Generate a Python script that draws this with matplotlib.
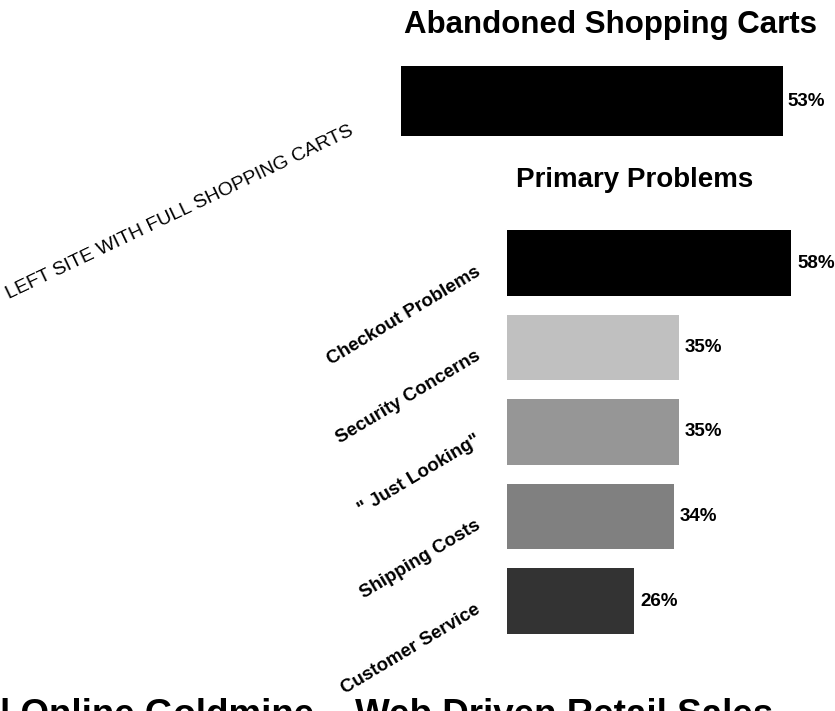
import matplotlib.pyplot as plt
import numpy as np

plt.rcParams["font.family"] = ["Liberation Sans", "DejaVu Sans"]

W, H = 835, 711

# abandoned carts share
abandoned = [53]

# reasons for leaving
problems = ["Checkout Problems", "Security Concerns", '" Just Looking"',
            "Shipping Costs", "Customer Service"]
problem_pct = [58, 35, 35, 34, 26]
problem_colors = ["#000000", "#c0c0c0", "#969696", "#808080", "#333333"]

fig = plt.figure(figsize=(W / 100, H / 100), dpi=100)


def px(x0, y0, x1, y1):
    # pixel box -> figure fraction rect
    return [x0 / W, 1 - y1 / H, (x1 - x0) / W, (y1 - y0) / H]


# top bar
ax_top = fig.add_axes(px(401, 66, 783, 136))
ax_top.barh([0], abandoned, height=1.0, color="black")
ax_top.set_xlim(0, 53)
ax_top.set_ylim(-0.5, 0.5)
ax_top.axis("off")
for v in abandoned:
    ax_top.annotate(f"{v}%", (v, 0), xytext=(3, 0), textcoords="offset points",
                    ha="left", va="center", fontsize=13.5, fontweight="bold",
                    annotation_clip=False)

fig.text(610 / W, 1 - 33 / H, "Abandoned Shopping Carts", ha="center",
         va="baseline", fontsize=22.5, fontweight="bold")

fig.text(180 / W, 1 - 213 / H, "LEFT SITE WITH FULL SHOPPING CARTS",
         ha="center", va="center", rotation=25.5, rotation_mode="anchor",
         fontsize=14)

# lower bars
ax = fig.add_axes(px(507, 220.75, 835, 643.25))
y = np.arange(len(problems))
ax.barh(y, problem_pct, height=0.78, color=problem_colors)
ax.set_xlim(0, 328 / 4.9)
ax.set_ylim(len(problems) - 0.5, -0.5)
for s in ax.spines.values():
    s.set_visible(False)
ax.set_xticks([])
ax.set_yticks(y)
ax.set_yticklabels(problems, rotation=31, ha="right", va="top",
                   fontsize=13.5, fontweight="bold")
ax.tick_params(axis="y", length=0, pad=17)
for yi, v in zip(y, problem_pct):
    ax.annotate(f"{v}%", (v, yi), xytext=(4.3, 0), textcoords="offset points",
                ha="left", va="center", fontsize=13.5, fontweight="bold",
                annotation_clip=False)

fig.text(635 / W, 1 - 187 / H, "Primary Problems", ha="center",
         va="baseline", fontsize=20, fontweight="bold")

fig.text(0, -14 / H, "l Online Goldmine \u2013 Web Driven Retail Sales",
         ha="left", va="baseline", fontsize=26.5, fontweight="bold")

fig.savefig("out.png", dpi=100)
